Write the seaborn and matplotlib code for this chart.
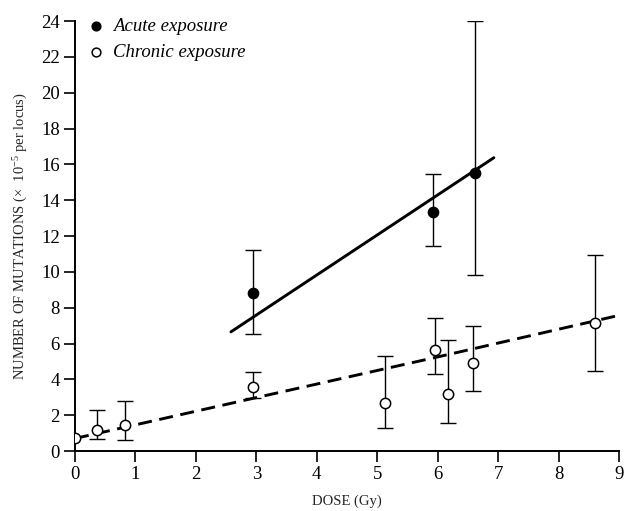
import matplotlib
matplotlib.use("Agg")
import matplotlib.pyplot as plt
import seaborn as sns
import pandas as pd

# Acute exposure: dose (Gy), mutation frequency and error-bar limits
acute_dose = [2.95, 5.92, 6.62]
acute_mut = [8.8, 13.35, 15.5]
acute_lo = [6.55, 11.45, 9.8]
acute_hi = [11.2, 15.45, 24.0]

# Chronic exposure
chronic_dose = [0.0, 0.37, 0.83, 2.95, 5.13, 5.95, 6.17, 6.58, 8.6]
chronic_mut = [0.7, 1.18, 1.43, 3.57, 2.68, 5.65, 3.18, 4.9, 7.12]
chronic_lo = [0.7, 0.65, 0.6, 2.95, 1.3, 4.28, 1.57, 3.33, 4.45]
chronic_hi = [0.7, 2.27, 2.77, 4.4, 5.3, 7.45, 6.2, 6.95, 10.95]

# Fitted dose-response lines
acute_fit_dose = [2.58, 6.93]
acute_fit_mut = [6.65, 16.37]
chronic_fit_dose = [0.0, 3.0, 6.0, 9.0]
chronic_fit_mut = [0.7, 2.98, 5.25, 7.57]

x_ticks = list(range(0, 10))
y_ticks = list(range(0, 25, 2))

sns.set_style("ticks")
plt.rcParams["font.family"] = ["Liberation Serif", "DejaVu Serif"]
plt.rcParams["mathtext.fontset"] = "custom"
plt.rcParams["mathtext.rm"] = "Liberation Serif"
plt.rcParams["mathtext.it"] = "Liberation Serif:italic"

fig = plt.figure(figsize=(6.29, 5.11), dpi=100)
ax = fig.add_axes([75 / 629, 1 - 451 / 511, 544 / 629, 430 / 511])

acute_df = pd.DataFrame({"dose": acute_dose, "mut": acute_mut})
chronic_df = pd.DataFrame({"dose": chronic_dose, "mut": chronic_mut})

# fitted lines
sns.lineplot(x=acute_fit_dose, y=acute_fit_mut, ax=ax, color="black",
             lw=2.1, zorder=2)
sns.lineplot(x=chronic_fit_dose, y=chronic_fit_mut, ax=ax, color="black",
             lw=2.1, dashes=False, zorder=2)
ax.lines[-1].set_dashes([4.8, 2.6])

# error bars
def bars(xs, ys, lo, hi):
    yerr = [[y - l for y, l in zip(ys, lo)], [h - y for y, h in zip(ys, hi)]]
    ax.errorbar(xs, ys, yerr=yerr, fmt="none", ecolor="black", elinewidth=1.0,
                capsize=5.5, capthick=1.0, zorder=3)

bars(acute_dose, acute_mut, acute_lo, acute_hi)
bars(chronic_dose[1:], chronic_mut[1:], chronic_lo[1:], chronic_hi[1:])

sns.scatterplot(data=acute_df, x="dose", y="mut", ax=ax, s=55, color="black",
                edgecolor="black", linewidth=1, zorder=4,
                label="Acute exposure")
sns.scatterplot(data=chronic_df, x="dose", y="mut", ax=ax, s=55, color="white",
                edgecolor="black", linewidth=1.1, zorder=4,
                label="Chronic exposure")

ax.set_xlim(0, 9)
ax.set_ylim(0, 24)
ax.set_xticks(x_ticks)
ax.set_yticks(y_ticks)
ax.tick_params(axis="both", direction="out", length=8, width=1.2,
               labelsize=13.5, pad=3, colors="black")
for s in ("top", "right"):
    ax.spines[s].set_visible(False)
for s in ("left", "bottom"):
    ax.spines[s].set_linewidth(1.4)
    ax.spines[s].set_color("black")
    ax.spines[s].set_clip_on(False)

ax.set_xlabel("DOSE (Gy)", fontsize=10.5, labelpad=8)
ax.set_ylabel(r"NUMBER OF MUTATIONS ($\times$  10$^{-5}$ per locus)",
              fontsize=10.5, labelpad=8)

leg = ax.legend(loc="upper left", bbox_to_anchor=(0.0075, 1.025), frameon=False,
                prop={"family": "Liberation Serif", "style": "italic",
                      "size": 13.5},
                handlelength=1.0, handletextpad=0.4, labelspacing=0.5,
                markerscale=0.85, borderaxespad=0)
for t in leg.get_texts():
    t.set_color("black")

fig.savefig("out.png", dpi=100)
